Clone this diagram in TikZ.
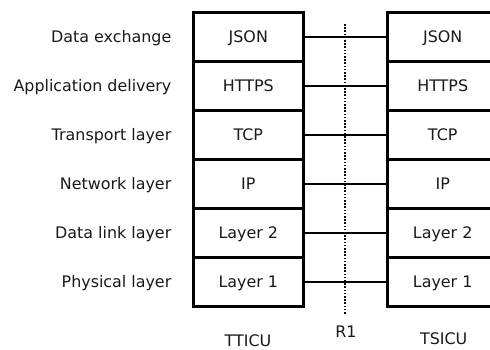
\documentclass[tikz,border=0pt]{standalone}
\usepackage{fontspec}
\setmainfont{DejaVu Sans}
\begin{document}
\begin{tikzpicture}[x=1pt,y=-1pt,
  every node/.style={font=\fontsize{15.9}{18}\selectfont, text=black!90},
  layerbox/.style={draw=black, line width=3pt, minimum width=110pt,
    minimum height=49pt, inner sep=0pt},
  link/.style={draw=black, line width=1.4pt},
  refpoint/.style={draw=black, line width=2pt, dash pattern=on 1.6pt off 1.6pt},
  rowlabel/.style={anchor=base east, inner sep=0pt},
  stacklabel/.style={anchor=base, inner sep=0pt}]
  \useasboundingbox (0,0) rectangle (490,349);
  \clip (0,0) rectangle (490,349);

  % reference point between the two stacks
  \coordinate (rtop) at (344.5,24);
  \coordinate (rbot) at (344.5,315);
  \draw[refpoint] (rtop) -- (rbot);

  % protocol stacks, row by row
  \foreach \i/\txt/\lbl in {1/JSON/Data exchange, 2/HTTPS/Application delivery,
      3/TCP/Transport layer, 4/IP/Network layer, 5/Layer 2/Data link layer,
      6/Layer 1/Physical layer}{
    \pgfmathsetmacro{\yc}{12.5+49*(\i-0.5)}
    \node[layerbox] (l\i) at (248.3,\yc) {};
    \node[layerbox] (r\i) at (442.7,\yc) {};
    \node[stacklabel] at (248.3,\yc+5.7) {\txt};
    \node[stacklabel] at (442.7,\yc+5.7) {\txt};
    \node[rowlabel] (n\i) at (171.5,\yc+5.7) {\lbl};
    \draw[link] (l\i.east) -- (r\i.west);
  }

  % captions
  \node[stacklabel] (tticu) at (248,346) {TTICU};
  \node[stacklabel] (r1) at (346,337.3) {R1};
  \node[stacklabel] (tsicu) at (443.7,344) {TSICU};
\end{tikzpicture}
\end{document}
